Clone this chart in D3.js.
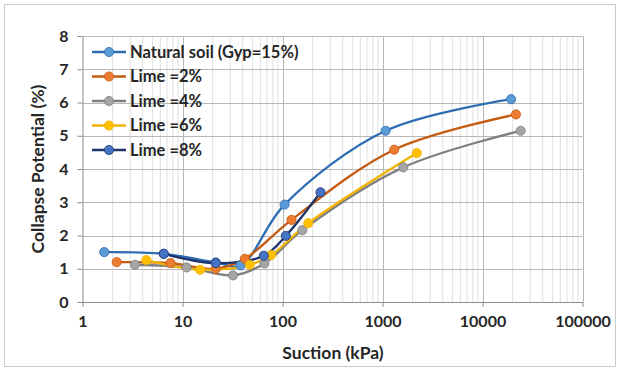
<!DOCTYPE html>
<html>
<head>
<meta charset="utf-8">
<script src="https://cdn.jsdelivr.net/npm/d3@7"></script>
<style>
  html, body { margin: 0; padding: 0; background: #fff; }
  svg { display: block; }
  text { font-family: Lato, "Open Sans", "Liberation Sans", sans-serif; font-weight: bold; fill: #262626; }
</style>
</head>
<body>
<svg id="chart" width="620" height="371"></svg>
<script>
// Collapse potential versus suction for the natural gypseous soil and lime-treated mixes
const seriesNames = ["Natural soil (Gyp=15%)", "Lime =2%", "Lime =4%", "Lime =6%", "Lime =8%"];

const naturalSuction = [1.65, 6.5, 21.5, 38, 105, 1075, 19300];
const naturalCP      = [1.5, 1.45, 1.19, 1.1, 2.93, 5.15, 6.1];

const lime2Suction = [2.2, 7.6, 21.5, 42, 123, 1310, 21600];
const lime2CP      = [1.2, 1.17, 1.0, 1.3, 2.47, 4.58, 5.64];

const lime4Suction = [3.35, 11, 32, 66, 158, 1615, 24100];
const lime4CP      = [1.12, 1.04, 0.8, 1.16, 2.16, 4.05, 5.15];

const lime6Suction = [4.35, 15, 47, 77, 181, 2200];
const lime6CP      = [1.26, 0.97, 1.12, 1.41, 2.37, 4.48];

const lime8Suction = [6.5, 21.5, 65, 108, 240];
const lime8CP      = [1.45, 1.17, 1.39, 1.99, 3.3];

const xTickValues = [1, 10, 100, 1000, 10000, 100000];
const xTickLabels = ["1", "10", "100", "1000", "10000", "100000"];
const yTickValues = [0, 1, 2, 3, 4, 5, 6, 7, 8];

const lineColors   = ["#2f6db2", "#c55a11", "#7f7f7f", "#f0b400", "#1f3468"];
const markerColors = ["#5b9bd5", "#ed7d31", "#a5a5a5", "#ffc000", "#4472c4"];

const series = [
  { name: seriesNames[0], x: naturalSuction, y: naturalCP },
  { name: seriesNames[1], x: lime2Suction, y: lime2CP },
  { name: seriesNames[2], x: lime4Suction, y: lime4CP },
  { name: seriesNames[3], x: lime6Suction, y: lime6CP },
  { name: seriesNames[4], x: lime8Suction, y: lime8CP }
].map((s, i) => ({ ...s, line: lineColors[i], fill: markerColors[i],
                   points: s.x.map((v, j) => [v, s.y[j]]) }));

const svg = d3.select("#chart");

// outer frame
svg.append("rect").attr("x", 4.5).attr("y", 4.5).attr("width", 611).attr("height", 362)
  .attr("fill", "#fff").attr("stroke", "#c9c9c9").attr("stroke-width", 1);

const x = d3.scaleLog().domain([1, 100000]).range([82.5, 582.5]);
const y = d3.scaleLinear().domain([0, 8]).range([302, 36]);

const grid = svg.append("g");

// minor vertical gridlines (2..9 within each decade)
const minor = [];
for (let d = 1; d < 100000; d *= 10) for (let k = 2; k <= 9; k++) minor.push(d * k);
grid.selectAll(".minor").data(minor).join("line")
  .attr("x1", d => x(d)).attr("x2", d => x(d))
  .attr("y1", y(8)).attr("y2", y(0))
  .attr("stroke", "#e0e0e0").attr("stroke-width", 1);

// major gridlines
grid.selectAll(".vmaj").data(xTickValues.slice(1)).join("line")
  .attr("x1", d => Math.round(x(d)) + 0.5).attr("x2", d => Math.round(x(d)) + 0.5)
  .attr("y1", y(8)).attr("y2", y(0))
  .attr("stroke", "#b8b8b8").attr("stroke-width", 1);
grid.selectAll(".hmaj").data(yTickValues.slice(1)).join("line")
  .attr("x1", x(1)).attr("x2", x(100000))
  .attr("y1", d => Math.round(y(d)) + 0.5).attr("y2", d => Math.round(y(d)) + 0.5)
  .attr("stroke", "#b8b8b8").attr("stroke-width", 1);

// axes
const xAxis = d3.axisBottom(x).tickValues(xTickValues)
  .tickFormat((d, i) => xTickLabels[i]).tickSizeInner(5).tickSizeOuter(0).tickPadding(9);
const yAxis = d3.axisLeft(y).tickValues(yTickValues)
  .tickFormat(d3.format("d")).tickSizeInner(5).tickSizeOuter(0).tickPadding(9);

const gx = svg.append("g").attr("transform", `translate(0,${y(0)})`).call(xAxis);
const gy = svg.append("g").attr("transform", `translate(${x(1)},0)`).call(yAxis);
[gx, gy].forEach(g => {
  g.select(".domain").attr("stroke", "#8c8c8c");
  g.selectAll(".tick line").attr("stroke", "#8c8c8c");
  g.selectAll(".tick text").style("font-size", "16px").attr("fill", "#262626")
    .style("font-family", "Lato, 'Open Sans', sans-serif").style("font-weight", "bold");
});

// axis titles
svg.append("text").attr("x", 333).attr("y", 359).attr("text-anchor", "middle")
  .style("font-size", "17.5px").text("Suction (kPa)");
svg.append("text").attr("transform", "translate(44,169) rotate(-90)")
  .attr("text-anchor", "middle").style("font-size", "17.5px").text("Collapse Potential (%)");

// smoothed series lines with markers
const line = d3.line().x(d => x(d[0])).y(d => y(d[1])).curve(d3.curveCatmullRom.alpha(0.5));

const gs = svg.append("g");
series.forEach(s => {
  gs.append("path").attr("d", line(s.points)).attr("fill", "none")
    .attr("stroke", s.line).attr("stroke-width", 2.3);
});
series.forEach(s => {
  gs.append("g").selectAll("circle").data(s.points).join("circle")
    .attr("cx", d => x(d[0])).attr("cy", d => y(d[1])).attr("r", 4.6)
    .attr("fill", s.fill).attr("stroke", s.line).attr("stroke-width", 0.8);
});

// legend
const legend = svg.append("g");
series.forEach((s, i) => {
  const ly = 52 + i * 24.5;
  legend.append("line").attr("x1", 92).attr("x2", 126).attr("y1", ly).attr("y2", ly)
    .attr("stroke", s.line).attr("stroke-width", 2.3);
  legend.append("circle").attr("cx", 109).attr("cy", ly).attr("r", 4.6)
    .attr("fill", s.fill).attr("stroke", s.line).attr("stroke-width", 0.8);
  legend.append("text").attr("x", 130).attr("y", ly + 5.5).style("font-size", "16.5px").text(s.name);
});
</script>
</body>
</html>
